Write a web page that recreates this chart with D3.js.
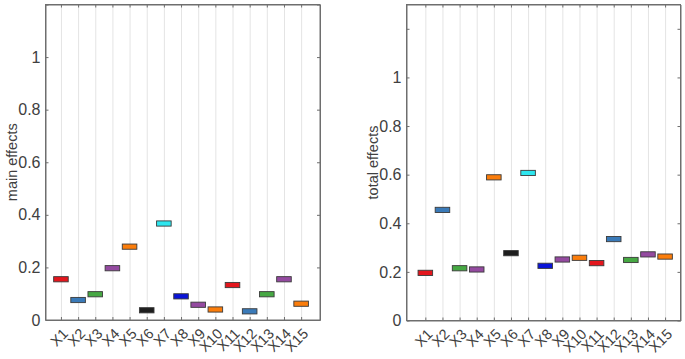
<!DOCTYPE html>
<html>
<head>
<meta charset="utf-8">
<script src="https://cdn.jsdelivr.net/npm/d3@7"></script>
<style>
    body { margin: 0; background: #fff; }
    svg { display: block; font-family: "Liberation Sans", Arial, sans-serif; }
</style>
</head>
<body>
<div id="chart"></div>
<script>
    "use strict";

    // chart data
    const categories = ["X1", "X2", "X3", "X4", "X5", "X6", "X7", "X8", "X9", "X10", "X11", "X12", "X13", "X14", "X15"];
    const mainEffects = [0.155, 0.076, 0.098, 0.197, 0.279, 0.037, 0.367, 0.090, 0.058, 0.040, 0.133, 0.033, 0.098, 0.155, 0.062];
    const totalEffects = [0.196, 0.455, 0.215, 0.210, 0.589, 0.277, 0.607, 0.225, 0.251, 0.258, 0.236, 0.335, 0.249, 0.272, 0.263];
    const boxColors = ["#e3161d", "#3a7ab8", "#46a843", "#944aa0", "#fb7d0b", "#1e1e1e", "#2ee6ef", "#0a14d8",
        "#944aa0", "#fb7d0b", "#e3161d", "#3a7ab8", "#46a843", "#944aa0", "#fb7d0b"];
    const yTicks = [0, 0.2, 0.4, 0.6, 0.8, 1, 1.2];
    const yTickLabels = ["0", "0.2", "0.4", "0.6", "0.8", "1", ""];

    const width = 685;
    const height = 359;
    const axisColor = "#6e6e6e";
    const gridColor = "#e4e4e4";
    const textColor = "#404040";

    let svg = d3.select("#chart").append("svg")
        .attr("width", width)
        .attr("height", height);

    function drawPanel(p) {
        let g = svg.append("g");
        let w = p.right - p.left;
        let h = p.bottom - p.top;

        let xScale = d3.scaleLinear().domain(p.xDomain).range([p.left, p.right]);
        let yScale = d3.scaleLinear().domain([0, p.yMax]).range([p.bottom, p.top]);
        let idx = categories.map((c, i) => i + 1);

        // vertical grid lines
        g.append("g")
            .attr("class", "grid")
            .attr("transform", "translate(0," + p.bottom + ")")
            .call(d3.axisBottom(xScale).tickValues(idx).tickSizeInner(-h).tickSizeOuter(0).tickFormat(""))
            .call(a => a.select(".domain").remove())
            .call(a => a.selectAll("line").attr("stroke", gridColor));

        // boxes
        let bw = (xScale(1) - xScale(0)) * 0.85;
        g.selectAll(".box")
            .data(p.values)
            .enter()
            .append("rect")
            .attr("class", "box")
            .attr("x", (d, i) => xScale(i + 1) - bw / 2)
            .attr("y", d => yScale(d) - 2.6)
            .attr("width", bw)
            .attr("height", 5.2)
            .attr("fill", (d, i) => boxColors[i])
            .attr("stroke", "#3a3a3a")
            .attr("stroke-width", 0.9);

        // x-axis
        let xAxis = g.append("g")
            .attr("class", "axis")
            .attr("transform", "translate(0," + p.bottom + ")")
            .call(d3.axisBottom(xScale).tickValues(idx).tickSizeInner(-3).tickSizeOuter(0)
                .tickFormat((d, i) => categories[i]));
        xAxis.selectAll("text")
            .attr("x", 0)
            .attr("y", 0)
            .attr("dy", "0.35em")
            .attr("transform", "translate(4,11) rotate(-45)")
            .style("text-anchor", "end")
            .style("font-size", "14.5px")
            .attr("fill", textColor);

        // top axis ticks
        g.append("g")
            .attr("class", "axis")
            .attr("transform", "translate(0," + p.top + ")")
            .call(d3.axisTop(xScale).tickValues(idx).tickSizeInner(-3).tickSizeOuter(0).tickFormat(""));

        // y-axis
        g.append("g")
            .attr("class", "axis")
            .attr("transform", "translate(" + p.left + ",0)")
            .call(d3.axisLeft(yScale).tickValues(yTicks).tickSizeInner(-3).tickSizeOuter(0)
                .tickPadding(5).tickFormat((d, i) => yTickLabels[i]))
            .selectAll("text")
            .style("font-size", "16px")
            .attr("fill", textColor);

        g.append("g")
            .attr("class", "axis")
            .attr("transform", "translate(" + p.right + ",0)")
            .call(d3.axisRight(yScale).tickValues(yTicks).tickSizeInner(-3).tickSizeOuter(0).tickFormat(""));

        g.selectAll(".axis .domain").attr("stroke", axisColor);
        g.selectAll(".axis .tick line").attr("stroke", axisColor);

        // frame
        g.append("rect")
            .attr("x", p.left)
            .attr("y", p.top)
            .attr("width", w)
            .attr("height", h)
            .attr("fill", "none")
            .attr("stroke", axisColor)
            .attr("stroke-width", 1);

        // y label
        g.append("text")
            .attr("transform", "translate(" + p.labelX + "," + ((p.top + p.bottom) / 2) + ") rotate(-90)")
            .style("text-anchor", "middle")
            .style("font-size", "14.5px")
            .attr("fill", textColor)
            .text(p.label);
    }

    drawPanel({ left: 45.5, right: 320, top: 4.5, bottom: 320, xDomain: [0.1, 16.1], yMax: 1.2,
        values: mainEffects, label: "main effects", labelX: 17 });
    drawPanel({ left: 406.5, right: 680.5, top: 4.5, bottom: 320.5, xDomain: [-0.1, 15.9], yMax: 1.3,
        values: totalEffects, label: "total effects", labelX: 378 });
</script>
</body>
</html>
